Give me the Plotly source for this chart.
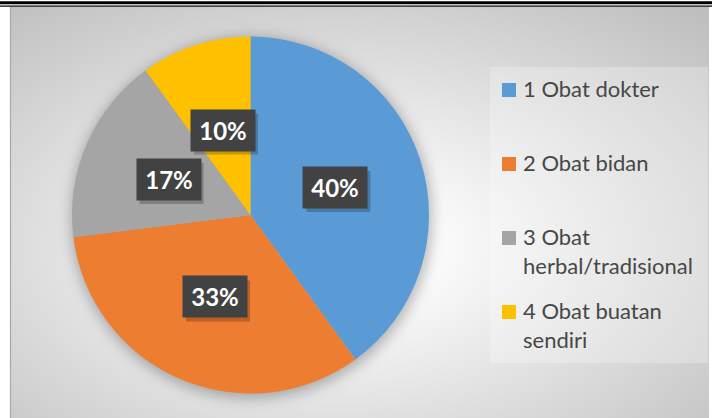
import base64
import math
import textwrap

import plotly.graph_objects as go

# Chart data
categories = ["1 Obat dokter", "2 Obat bidan", "3 Obat herbal/tradisional", "4 Obat buatan sendiri"]
shares = [40, 33, 17, 10]
colors = ["#5B9BD5", "#ED7D31", "#A5A5A5", "#FFC000"]

W, H = 712, 418


def px(x):
    return x / W


def py(y):
    return 1 - y / H


# Pie geometry (pixels)
CX, CY, R = 250.5, 215.0, 178.5

# Chart-area background: soft radial gradient plus a blurred shadow under the pie
AX0, AY0, AX1, AY1 = 10, 7, 709, 418
aw, ah = AX1 - AX0, AY1 - AY0
svg = f"""<svg xmlns='http://www.w3.org/2000/svg' width='{aw}' height='{ah}'>
<defs>
<radialGradient id='g' cx='0.47' cy='0.58' r='0.78'>
<stop offset='0' stop-color='#ffffff'/>
<stop offset='0.18' stop-color='#fbfbfb'/>
<stop offset='1' stop-color='#bdbdbd'/>
</radialGradient>
<filter id='b' x='-30%' y='-30%' width='160%' height='160%'>
<feGaussianBlur stdDeviation='7'/>
</filter>
</defs>
<rect width='{aw}' height='{ah}' fill='url(#g)'/>
<circle cx='{CX - AX0 + 1}' cy='{CY - AY0 + 3}' r='{R + 2}' fill='#000' fill-opacity='0.28' filter='url(#b)'/>
</svg>"""
bg_uri = "data:image/svg+xml;base64," + base64.b64encode(svg.encode()).decode()

fig = go.Figure(
    go.Pie(
        labels=categories,
        values=shares,
        marker=dict(colors=colors, line=dict(width=0)),
        sort=False,
        direction="clockwise",
        rotation=0,
        textinfo="none",
        hoverinfo="label+percent",
        domain=dict(x=[px(CX - R), px(CX + R)], y=[py(CY + R), py(CY - R)]),
        showlegend=False,
    )
)

shapes = [
    # double rule along the top edge
    dict(type="rect", xref="paper", yref="paper", x0=0, x1=1, y0=py(4.2), y1=py(1.2),
         fillcolor="#000", line=dict(width=0), layer="above"),
    dict(type="rect", xref="paper", yref="paper", x0=0, x1=1, y0=py(6.8), y1=py(5.6),
         fillcolor="#000", line=dict(width=0), layer="above"),
    # left border of the chart area
    dict(type="line", xref="paper", yref="paper", x0=px(10.5), x1=px(10.5), y0=0, y1=py(7),
         line=dict(color="#a8a8a8", width=1.2), layer="above"),
    # legend panel
    dict(type="rect", xref="paper", yref="paper", x0=px(490), x1=px(708), y0=py(363), y1=py(67),
         fillcolor="rgba(255,255,255,0.25)", line=dict(width=0), layer="below"),
]

annotations = []

# Percentage labels on dark boxes, placed at half radius along each slice's mid-angle
BOX_W, BOX_H = 64, 41
total = sum(shares)
cum = 0
for v in shares:
    mid = (cum + v / 2) / total * 2 * math.pi
    cum += v
    lx = CX + 0.5 * R * math.sin(mid)
    ly = CY - 0.5 * R * math.cos(mid)
    pct = f"{round(100 * v / total)}%"
    # drop shadow behind the label box
    shapes.append(dict(
        type="rect", xref="paper", yref="paper",
        x0=px(lx - BOX_W / 2 + 3), x1=px(lx + BOX_W / 2 + 3),
        y0=py(ly + BOX_H / 2 + 4), y1=py(ly - BOX_H / 2 + 4),
        fillcolor="rgba(0,0,0,0.22)", line=dict(width=0), layer="above",
    ))
    annotations.append(dict(
        x=px(lx), y=py(ly), xref="paper", yref="paper",
        xanchor="center", yanchor="middle", showarrow=False,
        width=BOX_W, height=BOX_H, borderpad=0,
        text=f"<b>{pct}</b>",
        font=dict(family="Lato", size=24, color="#ffffff"),
        bgcolor="#424242",
    ))

# Legend: square swatches with wrapped labels
LEG_Y0, LEG_STEP = 90, 74
for i, (name, col) in enumerate(zip(categories, colors)):
    yc = LEG_Y0 + LEG_STEP * i
    shapes.append(dict(type="rect", xref="paper", yref="paper",
                       x0=px(502), x1=px(516), y0=py(yc + 7), y1=py(yc - 7),
                       fillcolor=col, line=dict(width=0), layer="above"))
    annotations.append(dict(
        x=px(521), y=py(yc - 17), xref="paper", yref="paper",
        xanchor="left", yanchor="top", align="left", showarrow=False,
        text="<br>".join(textwrap.wrap(name, 18)),
        font=dict(family="Lato", size=22, color="#474747"),
    ))

fig.update_layout(
    width=W, height=H,
    margin=dict(l=0, r=0, t=0, b=0),
    paper_bgcolor="#ffffff",
    plot_bgcolor="#ffffff",
    images=[dict(source=bg_uri, xref="paper", yref="paper",
                 x=px(AX0), y=py(AY0), sizex=px(AX1) - px(AX0), sizey=py(AY0) - py(AY1),
                 xanchor="left", yanchor="top", sizing="stretch", layer="below")],
    shapes=shapes,
    annotations=annotations,
)

fig.write_html("out.html")
